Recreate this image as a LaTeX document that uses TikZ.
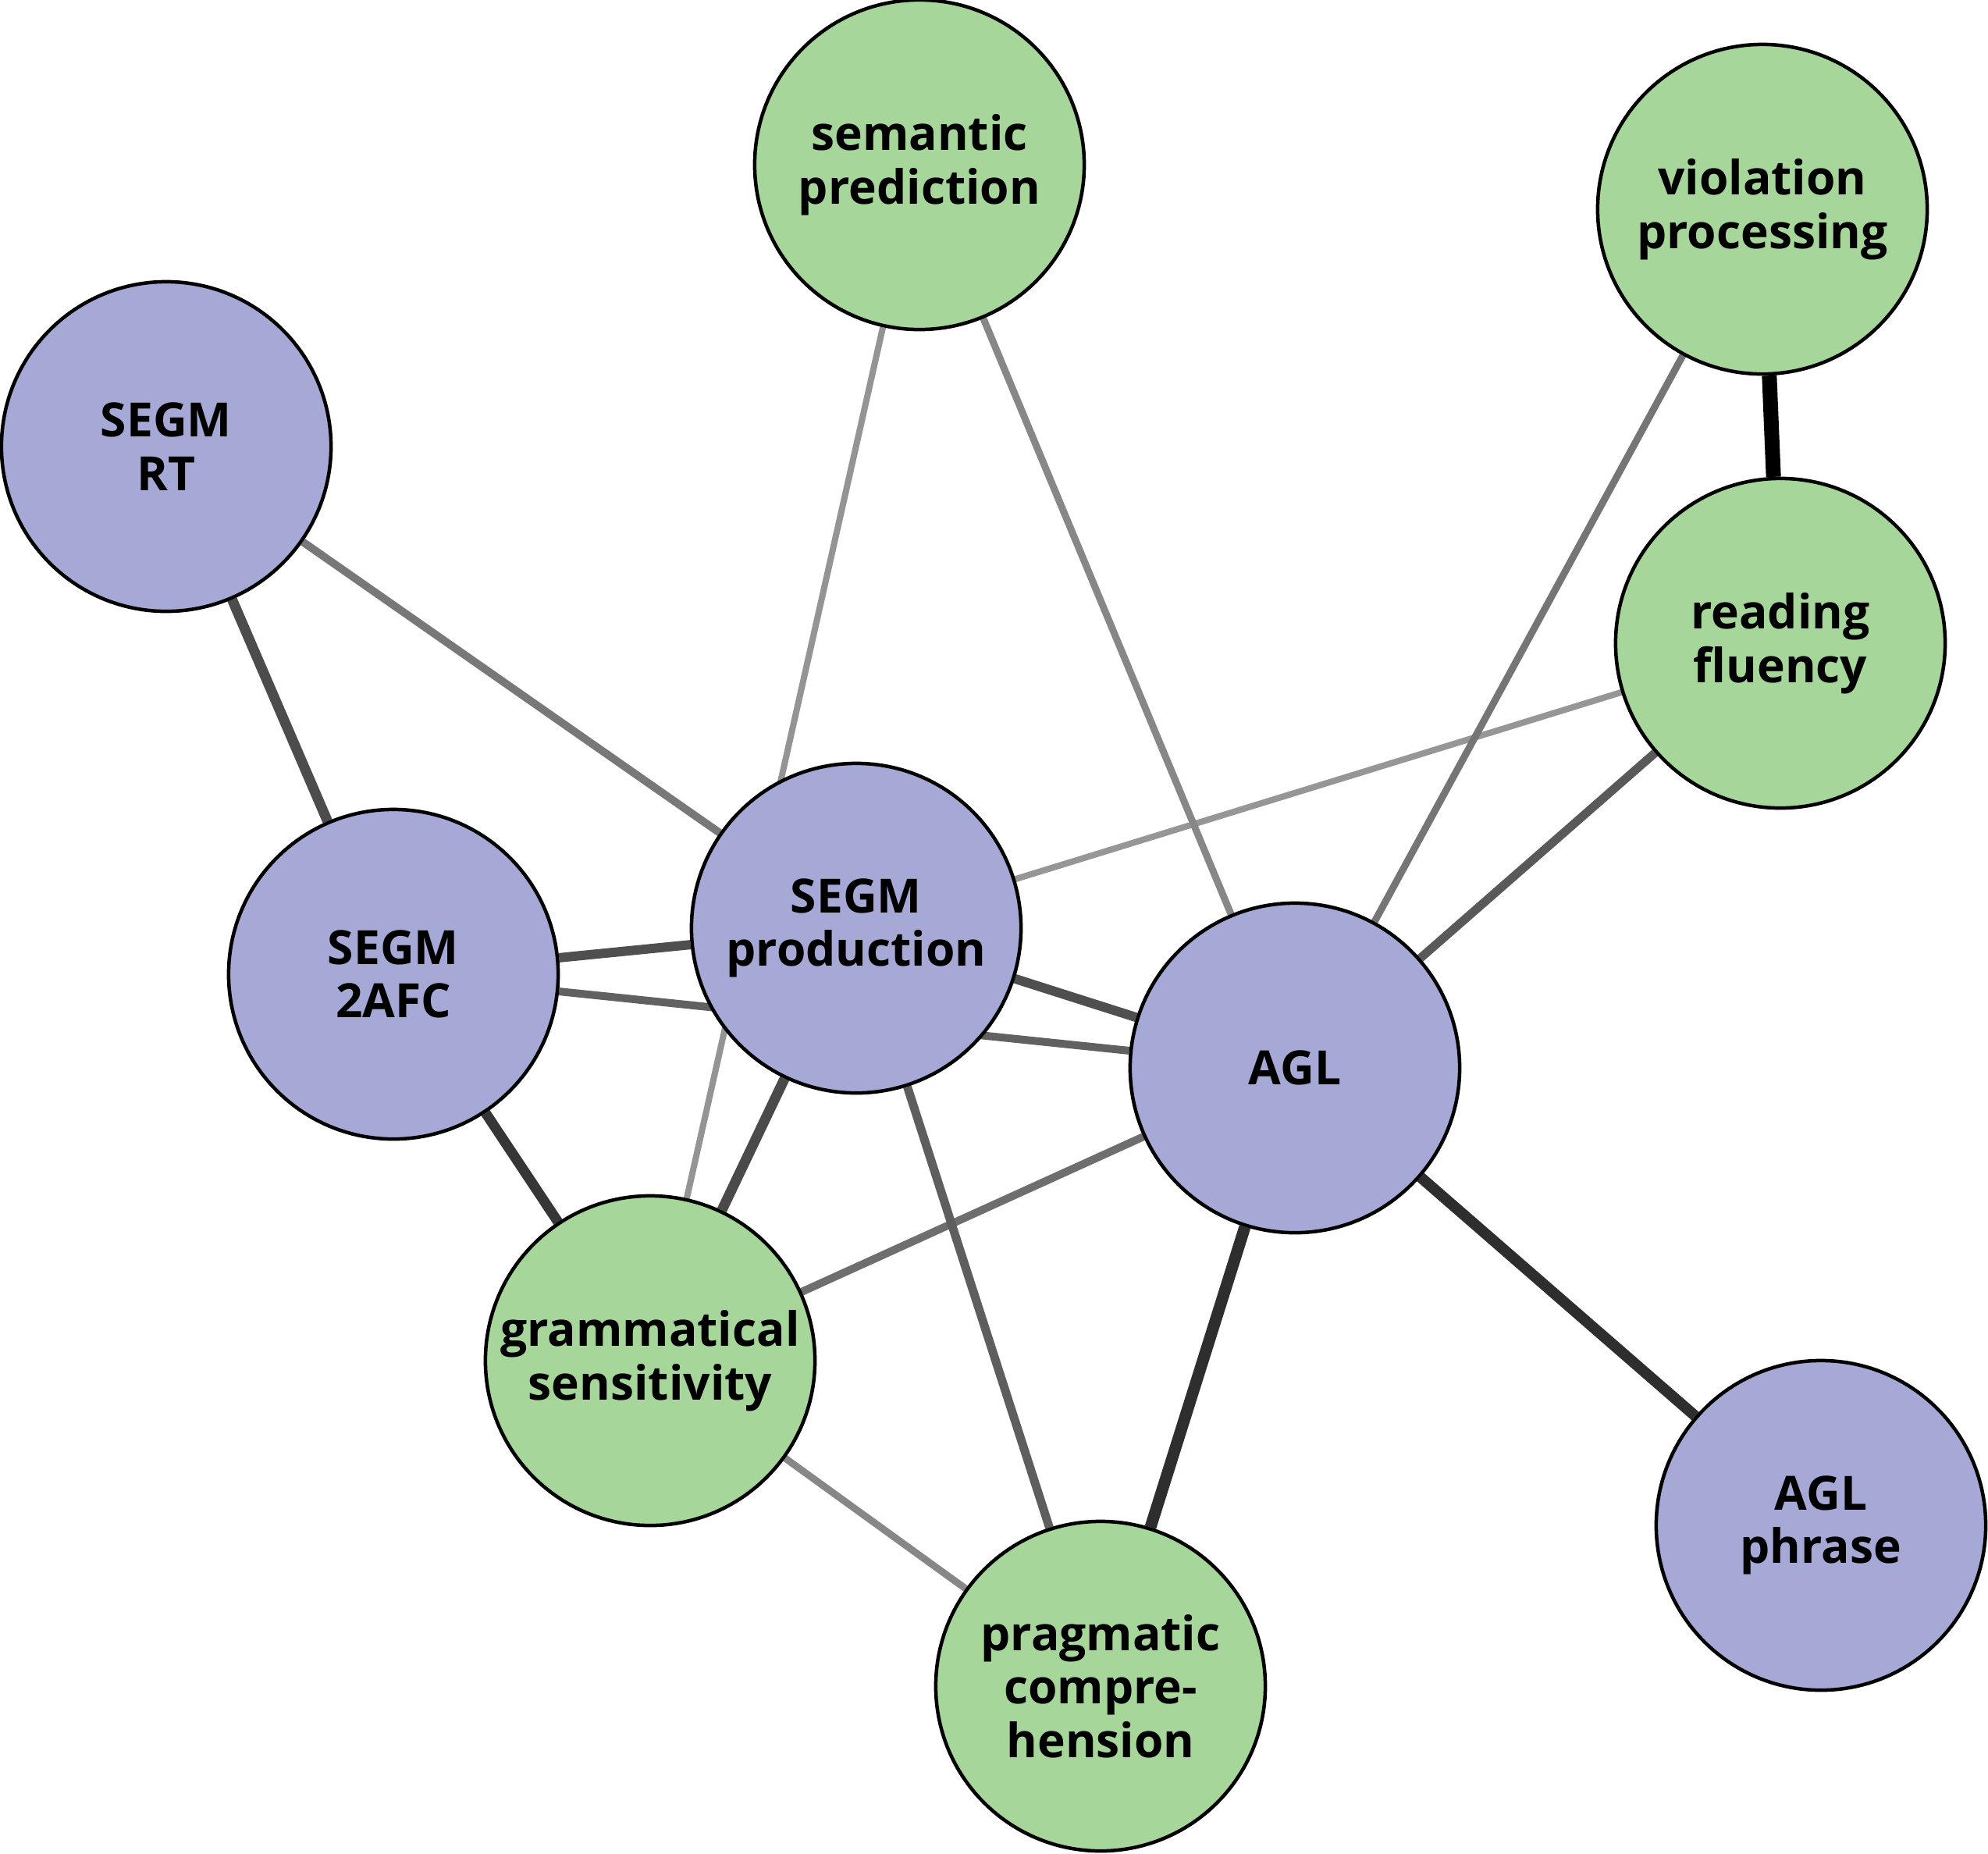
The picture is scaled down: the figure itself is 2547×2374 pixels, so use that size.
\documentclass[tikz,border=0pt]{standalone}
\usepackage{fontspec}
\newfontfamily\lab{Open Sans}
\usetikzlibrary{backgrounds}
\definecolor{nblue}{HTML}{A6A8D6}
\definecolor{ngreen}{HTML}{A6D69A}
\tikzset{
  vnode/.style={circle, draw=black, line width=0.045cm, minimum size=4.22cm, inner sep=0pt, align=center, font=\lab\bfseries\fontsize{17.2}{19.5}\selectfont},
  bnode/.style={vnode, fill=nblue},
  gnode/.style={vnode, fill=ngreen},
  edge/.style n args={2}{draw=#1, line width=#2, line cap=butt}
}
\begin{document}
\begin{tikzpicture}[x=0.01cm, y=-0.01cm]
\useasboundingbox (0,0) rectangle (2547,2374);
\node[gnode] (sem) at (1178,211) {semantic\\prediction};
\node[gnode] (viol) at (2258,268) {violation\\processing};
\node[bnode] (rt) at (213,572) {SEGM\\RT};
\node[gnode] (read) at (2281,824) {reading\\fluency};
\node[bnode] (afc) at (504,1248) {SEGM\\2AFC};
\node[bnode] (prod) at (1097,1189) {SEGM\\production};
\node[bnode] (agl) at (1659,1368) {AGL};
\node[gnode] (gram) at (833,1743) {grammatical\\sensitivity};
\node[bnode] (phr) at (2333,1954) {AGL\\phrase};
\node[gnode] (prag) at (1410,2160) {pragmatic\\compre-\\hension};
\begin{pgfonlayer}{background}
\draw[edge={black!41}{0.08cm}] (read) -- (prod);
\draw[edge={black!47}{0.09cm}] (gram) -- (prag);
\draw[edge={black!42}{0.08cm}] (sem) -- (gram);
\draw[edge={black!47}{0.09cm}] (sem) -- (agl);
\draw[edge={black!54}{0.09cm}] (viol) -- (agl);
\draw[edge={black!53}{0.10cm}] (rt) -- (prod);
\draw[edge={black!57}{0.10cm}] (agl) -- (gram);
\draw[edge={black!62}{0.10cm}] (afc) -- (agl);
\draw[edge={black!65}{0.11cm}] (read) -- (agl);
\draw[edge={black!63}{0.11cm}] (prod) -- (prag);
\draw[edge={black!69}{0.12cm}] (afc) -- (prod);
\draw[edge={black!69}{0.12cm}] (prod) -- (agl);
\draw[edge={black!71}{0.13cm}] (prod) -- (gram);
\draw[edge={black!79}{0.13cm}] (afc) -- (gram);
\draw[edge={black!70}{0.13cm}] (rt) -- (afc);
\draw[edge={black!82}{0.15cm}] (agl) -- (prag);
\draw[edge={black!82}{0.14cm}] (agl) -- (phr);
\draw[edge={black}{0.19cm}] (viol) -- (read);
\end{pgfonlayer}
\end{tikzpicture}
\end{document}
